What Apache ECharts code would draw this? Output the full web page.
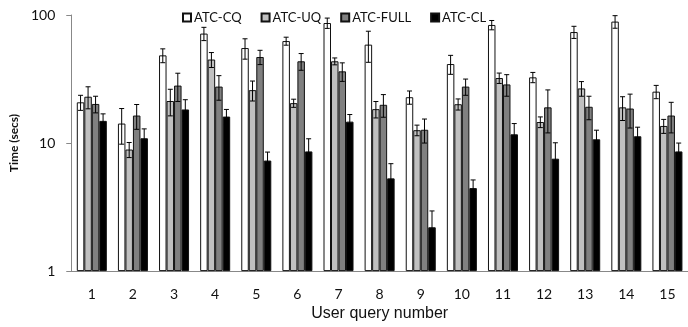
<!DOCTYPE html>
<html>
<head>
<meta charset="utf-8">
<script src="https://cdn.jsdelivr.net/npm/echarts@6/dist/echarts.min.js"></script>
<style>
html, body {margin: 0; padding: 0; background: #fff;}
#chart {width: 688px; height: 327px;}
</style>
</head>
<body>
<div id="chart"></div>
<script>
// data (log scale, secs)
var queries = ['1', '2', '3', '4', '5', '6', '7', '8', '9', '10', '11', '12', '13', '14', '15'];
var cq = [20.8, 14.2, 48.4, 71.6, 55.2, 62.6, 86.6, 58.7, 22.8, 41.4, 83.6, 32.6, 73.6, 88.8, 25.2];
var cqErr = [2.8, 4.4, 6, 8.5, 10, 4.5, 8, 16, 2.7, 7, 7, 3, 8, 10, 3];
var uq = [23.0, 8.9, 21.3, 44.9, 25.9, 20.5, 43.5, 18.4, 12.6, 20.1, 32.2, 14.6, 26.7, 19.0, 13.6];
var uqErr = [4.5, 1.2, 5, 6, 4.6, 1.5, 2.7, 2.7, 1.2, 2, 3, 1.4, 3.5, 4, 1.7];
var full = [20.2, 16.4, 28.1, 27.6, 47.0, 43.5, 36.3, 19.9, 12.7, 27.6, 28.7, 19.0, 19.2, 18.6, 16.4];
var fullErr = [3, 3.6, 7, 6, 6, 6.5, 6, 4, 2.7, 4, 5.5, 7, 4, 5.5, 4.4];
var cl = [14.9, 10.9, 18.3, 16.1, 7.3, 8.6, 14.7, 5.3, 2.2, 4.45, 11.7, 7.55, 10.7, 11.3, 8.6];
var clErr = [2, 2, 3.5, 2.2, 1.2, 2.2, 2, 1.6, 0.75, 0.7, 2.5, 2.5, 1.9, 2, 1.4];
var yTicks = [1, 10, 100];

var catGap = 0.27;
var chart = echarts.init(document.getElementById('chart'));

function barSeries(name, vals, color) {
    return {
        name: name,
        type: 'bar',
        data: vals,
        barGap: 0,
        barCategoryGap: '27%',
        itemStyle: {color: color, borderColor: '#111', borderWidth: 1}
    };
}

function errSeries(idx, vals, errs) {
    var data = vals.map(function (v, i) {
        return [i, v - errs[i], v + errs[i]];
    });
    return {
        type: 'custom',
        z: 10,
        silent: true,
        data: data,
        encode: {x: 0, y: [1, 2]},
        renderItem: function (params, api) {
            var i = api.value(0);
            var band = api.coord([1, 10])[0] - api.coord([0, 10])[0];
            var groupW = band * (1 - catGap);
            var barW = groupW / 4;
            var x = api.coord([i, 10])[0] - groupW / 2 + (idx + 0.5) * barW;
            var lo = api.coord([i, api.value(1)])[1];
            var hi = api.coord([i, api.value(2)])[1];
            var st = {stroke: '#000', lineWidth: 1};
            return {
                type: 'group',
                children: [
                    {type: 'line', shape: {x1: x, y1: lo, x2: x, y2: hi}, style: st},
                    {type: 'line', shape: {x1: x - 2.5, y1: hi, x2: x + 2.5, y2: hi}, style: st},
                    {type: 'line', shape: {x1: x - 2.5, y1: lo, x2: x + 2.5, y2: lo}, style: st}
                ]
            };
        }
    };
}

var option = {
    animation: false,
    textStyle: {fontFamily: 'Lato'},
    legend: {
        data: ['ATC-CQ', 'ATC-UQ', 'ATC-FULL', 'ATC-CL'],
        left: 177,
        top: 6,
        icon: 'rect',
        itemWidth: 8,
        itemHeight: 8,
        itemGap: 19,
        textStyle: {fontSize: 13, color: '#111', fontFamily: 'Lato', padding: [0, 0, 0, -2]}
    },
    grid: {left: 66, top: 15, width: 627, height: 257},
    xAxis: {
        type: 'category',
        data: queries,
        name: 'User query number',
        nameLocation: 'middle',
        nameGap: 32,
        nameTextStyle: {fontFamily: 'Liberation Sans', fontSize: 16, color: '#111'},
        axisLine: {lineStyle: {color: '#888'}},
        axisTick: {length: 5, lineStyle: {color: '#888'}},
        axisLabel: {margin: 16, fontSize: 14, color: '#111'}
    },
    yAxis: {
        type: 'log',
        logBase: 10,
        min: yTicks[0],
        max: yTicks[yTicks.length - 1],
        name: 'Time (secs)',
        nameLocation: 'middle',
        nameGap: 48,
        nameTextStyle: {fontSize: 12, fontWeight: 'bold', color: '#111'},
        axisLine: {show: true, lineStyle: {color: '#888'}},
        axisTick: {show: true, length: 5, lineStyle: {color: '#888'}},
        splitLine: {show: false},
        axisLabel: {margin: 16, fontSize: 14, color: '#111'}
    },
    series: [
        barSeries('ATC-CQ', cq, '#ffffff'),
        barSeries('ATC-UQ', uq, '#c0c0c0'),
        barSeries('ATC-FULL', full, '#808080'),
        barSeries('ATC-CL', cl, '#000000'),
        errSeries(0, cq, cqErr),
        errSeries(1, uq, uqErr),
        errSeries(2, full, fullErr),
        errSeries(3, cl, clErr)
    ]
};

chart.setOption(option);
</script>
</body>
</html>
